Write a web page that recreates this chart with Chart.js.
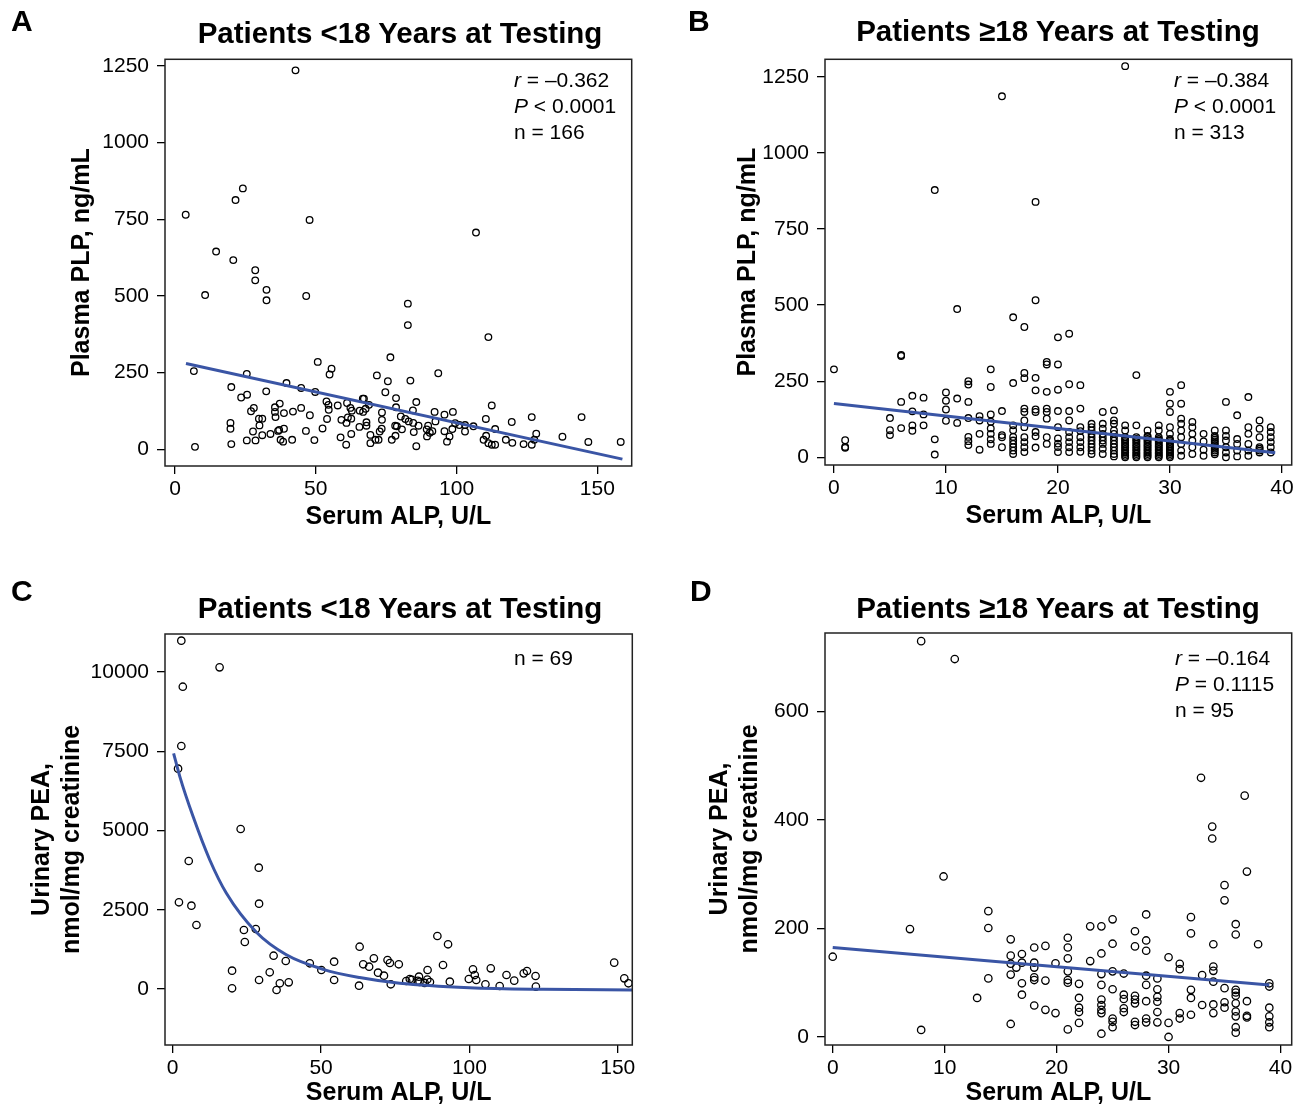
<!DOCTYPE html>
<html><head><meta charset="utf-8">
<script src="https://cdn.jsdelivr.net/npm/chart.js@4.4.1/dist/chart.umd.min.js"></script>
<style>
body{margin:0;background:#fff;font-family:"Liberation Sans",Arial,Helvetica,sans-serif;color:#000;}
#wrap{position:relative;width:1301px;height:1109px;overflow:hidden;}
canvas{position:absolute;}
.letter{position:absolute;font-weight:bold;font-size:30px;line-height:30px;}
.title{position:absolute;font-weight:bold;font-size:29.5px;line-height:30px;transform:translateX(-50%);white-space:nowrap;}
.stat{position:absolute;font-size:21px;line-height:26px;white-space:nowrap;}
</style></head>
<body><div id="wrap">
<canvas id="cA" width="650" height="532" style="left:0;top:0"></canvas>
<canvas id="cB" width="651" height="531" style="left:650px;top:0"></canvas>
<canvas id="cC" width="650" height="553" style="left:0;top:555px"></canvas>
<canvas id="cD" width="651" height="553" style="left:650px;top:555px"></canvas>
<div class="letter" style="left:11px;top:6px">A</div>
<div class="letter" style="left:688px;top:6px">B</div>
<div class="letter" style="left:11px;top:576px">C</div>
<div class="letter" style="left:690px;top:576px">D</div>
<div class="title" style="left:400px;top:18px">Patients &lt;18 Years at Testing</div>
<div class="title" style="left:1058px;top:16px">Patients ≥18 Years at Testing</div>
<div class="title" style="left:400px;top:593px">Patients &lt;18 Years at Testing</div>
<div class="title" style="left:1058px;top:593px">Patients ≥18 Years at Testing</div>
<div class="stat" style="left:514px;top:67px"><i>r</i> = –0.362<br><i>P</i> &lt; 0.0001<br>n = 166</div>
<div class="stat" style="left:1174px;top:67px"><i>r</i> = –0.384<br><i>P</i> &lt; 0.0001<br>n = 313</div>
<div class="stat" style="left:514px;top:645px">n = 69</div>
<div class="stat" style="left:1175px;top:645px"><i>r</i> = –0.164<br><i>P</i> = 0.1115<br>n = 95</div>
</div>
<script>
// ---------- Panel A: Plasma PLP vs Serum ALP, <18 y ----------
const aPoints = [[42.8,1236],[24.1,851],[21.5,813],[3.8,765],[47.8,748],[106.9,707],[14.6,645],[20.7,617],[28.5,584],[28.5,551],[32.5,520],[32.5,486],[10.7,503],[46.6,500],[82.7,475],[82.7,405],[111.3,366],
[6.7,255],[7.1,8],[20,203],[19.7,86],[19.7,67],[20,17],[23.5,169],[25.6,178],[25.5,246],[27,124],[28,135],[25.5,29],[28.6,29],[27.7,58],[30,78],[31,100],[29.8,100],[31,46],[32.4,189],[33.9,50],[35.5,137],[35.5,122],[35.7,105],[37.2,149],[38.7,118],[36.6,60],[37,63],[38.7,67],[37.5,31],[38.4,25],[41.6,31],[39.6,216],[41.9,123],[44.8,200],[44.8,135],[47.9,111],[46.5,60],[49.5,30],[49.8,187],[50.7,285],[52.4,68],[54,99],[53.8,156],[54.5,145],[54.6,129],[54.9,244],[55.6,263],[57.8,143],[58.8,39],[59.1,96],[60.8,15],[60.9,86],[61.4,104],[61.1,151],[62.6,50],[62.6,100],[62.3,135],[62.8,126],[65.5,73],[65.6,126],[66.7,165],[67.1,165],[66.8,122],[67.7,132],[68,88],[68,77],[68.9,145],[71.7,241],[75.6,222],[74.7,186],[76.5,300],[73.5,120],[73.5,96],[73.4,67],[72.7,58],[72.3,31],[71.2,31],[69.4,20],[69.4,47],[77,31],[78.2,77],[78.5,167],[78.5,137],
[93.5,248],[83.6,224],[85.7,154],[84.5,127],[80.2,107],[81.8,99],[83,91],[84.6,86],[78.8,75],[80.6,65],[78.3,44],[86.5,77],[84.8,56],[85.7,10],[89.4,65],[89.9,77],[89.5,42],[90.5,54],[91.4,59],[92.5,91],[92.2,122],[95.7,113],[98.7,122],[95.7,59],[96.6,25],[97.5,42],[98.5,66],[99.5,85],[101,79],[103,79],[106,75],[103,58],[110.4,99],[112.5,143],[113.7,66],[110.5,44],[109.6,31],[111.3,20],[112.5,15],[113.7,15],[117.5,31],[119.6,89],[119.8,21],[123.8,17],[126.7,105],[128.3,51],[127.6,31],[126.7,15],[137.6,41],[144.4,105],[146.8,24],[158.3,24]];
const aFitX = [3.9, 158.9];
const aFitY = [280, -32];
const aXTicks = [0, 50, 100, 150];
const aYTicks = [0, 250, 500, 750, 1000, 1250];

// ---------- Panel B: Plasma PLP vs Serum ALP, >=18 y (columns by ALP value) ----------
const bColumnX = [0,1,5,6,7,8,9,10,11,12,13,14,15,16,17,18,19,20,21,22,23,24,25,26,27,28,29,30,31,32,33,34,35,36,37,38,39];
const bColumnY = [
[289],[56,34,31],[129,89,73],[336,333,182,96],[202,151,105,87],[196,141,105],[878,59,9],[213,186,157,120],[487,193,113],
[250,239,182,129,67,53,40],[135,121,77,25],[289,231,141,117,95,77,59,44],[1186,152,73,66,33],
[460,244,105,89,67,55,44,33,22,11],[428,277,260,160,149,121,99,66,50,33,17],[839,516,261,220,157,149,83,69,32],
[313,305,215,160,149,127,66,44],[394,305,222,152,99,62,45,34,17],[406,240,152,121,83,66,50,33,17],
[237,160,99,86,66,50,33,18],[110,99,88,77,66,55,44,33,22,11],[149,110,94,77,66,55,44,28,11],
[154,121,110,88,77,66,55,44,33,22,11,3],[1285,105,88,66,60,55,50,44,38,33,27,22,16,11,5,0],
[270,105,66,60,55,50,44,38,33,27,22,16,11,5,0],[88,70,66,60,55,50,44,38,33,27,22,16,11,5,0],
[105,88,66,60,55,50,44,38,33,27,22,16,11,5,0],[215,176,149,99,77,60,55,50,44,38,33,27,22,16,11,5,0],
[237,176,127,110,88,66,44,22,5],[116,99,77,55,33,11],[77,52,25,5],[88,70,64,58,52,46,40,34,28,22,16,10],
[182,88,70,55,33,16,0],[138,60,44,22,3],[198,99,77,44,22,5],[121,94,66,33,28,22,16],[99,83,66,50,33,16]];
const bFitX = [0, 39.4];
const bFitY = [177, 15];
const bXTicks = [0, 10, 20, 30, 40];
const bYTicks = [0, 250, 500, 750, 1000, 1250];

// ---------- Panel C: Urinary PEA vs Serum ALP, <18 y ----------
const cPoints = [[2.9,10988],[15.8,10148],[3.4,9536],[2.9,7666],[1.8,6950],[22.9,5047],[5.4,4038],[29,3827],[2.1,2735],[6.3,2628],[29.1,2691],[8,2019],[24,1861],[28,1893],[24.3,1483],[20,577],[20,22],[29.1,284],[32.7,527],[34,1050],[38.1,883],[35,-32],[36.1,180],[39.1,211],[46.2,811],[50.1,599],[54.4,861],[54.4,284],[63,1334],[62.8,104],[64.2,779],[66.2,703],[67.8,968],[69.2,514],[71.2,420],[72.4,915],[73.2,820],[76.2,779],[73.5,148],
[89.2,1672],[92.8,1410],[91.1,757],[85.9,599],[83,388],[79.9,315],[78.7,252],[80.6,290],[82.6,260],[83.2,225],[84.9,190],[85.8,300],[86.7,220],[93.4,230],[99.8,315],[101.2,620],[101.8,440],[102.3,283],[105.4,148],[107.2,652],[110.2,95],[112.5,441],[115.1,263],[118.3,494],[119.4,567],[122.3,410],[122.4,74],[148.8,831],[152.2,337],[153.6,180]];
const cFitX = [0.3, 2.4, 6.9, 12.5, 18.1, 28.2, 38.3, 50.7, 63, 76.5, 100, 125, 155];
const cFitY = [7435, 6700, 5430, 4070, 3020, 1790, 1080, 620, 360, 180, 40, -10, -30];
const cXTicks = [0, 50, 100, 150];
const cYTicks = [0, 2500, 5000, 7500, 10000];

// ---------- Panel D: Urinary PEA vs Serum ALP, >=18 y ----------
const dPoints = [[7.9,730],[10.9,697],[32.9,478],[36.8,445],[33.9,388],[33.9,366],[37,305],[9.9,296],
[0,148],[6.9,199],[7.9,13],[13.9,232],[13.9,201],[13.9,108],[12.9,72],[15.9,180],[15.9,150],[15.9,135],[15.9,115],[15.9,24],[16.4,128],[16.9,153],[16.9,137],[16.9,99],[16.9,78],[18,165],[18,137],[18,128],[18,110],[18,105],[18,58],[19,168],[19,104],[19,50],[19.9,136],[19.9,44],
[21,183],[21,165],[21,145],[21,121],[21,105],[21,100],[21,14],
[22,98],[22,72],[22,54],[22,46],[22,26],
[23,204],[23,140],
[24,204],[24,154],[24,116],[24,96],[24,69],[24,59],[24,50],[24,44],[24,6],
[25,217],[25,172],[25,121],[25,88],[25,34],[25,28],[25,18],
[26,117],[26,78],[26,70],[26,53],[26,46],
[27,195],[27,167],[27,76],[27,69],[27,62],[27,28],[27,22],
[28,226],[28,178],[28,159],[28,113],[28,96],[28,66],[28,34],[28,27],
[29,108],[29,88],[29,74],[29,65],[29,46],[29,27],
[30,147],[30,26],[30,0],
[31,135],[31,125],[31,44],[31,34],
[32,221],[32,191],[32,87],[32,72],[32,41],
[33,114],[33,59],
[34,171],[34,130],[34,122],[34,102],[34,60],[34,44],
[35,280],[35,252],[35,90],[35,64],[35,54],
[36,208],[36,189],[36,87],[36,82],[36,76],[36,62],[36,47],[36,38],[36,18],[36,8],
[37,66],[37,39],[37,36],[38,171],
[39,99],[39,93],[39,54],[39,38],[39,27],[39,18]];
const dFitX = [0, 39];
const dFitY = [165, 96];
const dXTicks = [0, 10, 20, 30, 40];
const dYTicks = [0, 200, 400, 600];

// ---------- drawing ----------
const FAM = '"Liberation Sans", Arial, Helvetica, sans-serif';
const framePlugin = {
  id: 'frame',
  afterDraw(chart) {
    const {ctx, chartArea: a} = chart;
    ctx.save();
    ctx.strokeStyle = '#222';
    ctx.lineWidth = 1.5;
    ctx.strokeRect(a.left, a.top, a.right - a.left, a.bottom - a.top);
    ctx.restore();
  }
};
function toXY(xs, ys) { return xs.map((x, i) => ({x: x, y: ys[i]})); }
function pairs(p) { return p.map(q => ({x: q[0], y: q[1]})); }

function makeChart(id, o) {
  const axisBase = {
    type: 'linear',
    grid: {drawOnChartArea: false, drawTicks: true, tickLength: 8, color: '#000', lineWidth: 1.3},
    border: {display: false},
    ticks: {font: {family: FAM, size: 21}, color: '#000', autoSkip: false, maxRotation: 0,
            callback: v => String(v)}
  };
  return new Chart(document.getElementById(id), {
    type: 'scatter',
    data: {datasets: [
      {type: 'line', data: toXY(o.fitX, o.fitY), borderColor: '#3a55a5', borderWidth: 3,
       pointRadius: 0, fill: false, tension: 0, cubicInterpolationMode: o.curve ? 'monotone' : 'default'},
      {type: 'scatter', data: o.points, pointStyle: 'circle', pointRadius: o.r, pointBorderWidth: 1.3,
       pointBorderColor: '#000', pointBackgroundColor: 'rgba(255,255,255,0)'}
    ]},
    options: {
      responsive: false, animation: false, devicePixelRatio: 1,
      layout: {padding: {left: 0, top: o.padTop, right: o.padRight, bottom: 0}},
      plugins: {legend: {display: false}, tooltip: {enabled: false}},
      scales: {
        x: Object.assign({}, axisBase, {
          min: o.xmin, max: o.xmax, position: 'bottom',
          afterBuildTicks: s => { s.ticks = o.xTicks.map(v => ({value: v})); },
          afterFit: s => { s.height = o.xH; },
          ticks: Object.assign({}, axisBase.ticks, {padding: 3}),
          title: {display: true, text: 'Serum ALP, U/L', color: '#000',
                  font: {family: FAM, size: 25, weight: 'bold', lineHeight: 1.2}, padding: {top: 0, bottom: 0}}
        }),
        y: Object.assign({}, axisBase, {
          min: o.ymin, max: o.ymax, position: 'left',
          afterBuildTicks: s => { s.ticks = o.yTicks.map(v => ({value: v})); },
          afterFit: s => { s.width = o.yW; },
          ticks: Object.assign({}, axisBase.ticks, {padding: 8}),
          title: {display: true, text: o.yTitle, color: '#000',
                  font: {family: FAM, size: 25, weight: 'bold', lineHeight: 1.2}, padding: {top: o.yTitlePad, bottom: 0}}
        })
      }
    },
    plugins: [framePlugin]
  });
}

const bPoints = [];
bColumnX.forEach((x, i) => bColumnY[i].forEach(y => bPoints.push({x: x, y: y})));

makeChart('cA', {points: pairs(aPoints), fitX: aFitX, fitY: aFitY, xTicks: aXTicks, yTicks: aYTicks,
  xmin: -3.55, xmax: 162.2, ymin: -54.5, ymax: 1272, r: 3.3,
  padTop: 59.3, padRight: 18.3, xH: 66, yW: 165, yTitle: 'Plasma PLP, ng/mL', yTitlePad: 67});
makeChart('cB', {points: bPoints, fitX: bFitX, fitY: bFitY, xTicks: bXTicks, yTicks: bYTicks,
  xmin: -0.8, xmax: 40.87, ymin: -25.3, ymax: 1307.5, r: 3.3,
  padTop: 59.3, padRight: 9.3, xH: 66, yW: 175, yTitle: 'Plasma PLP, ng/mL', yTitlePad: 83});
makeChart('cC', {points: pairs(cPoints), fitX: cFitX, fitY: cFitY, curve: true, xTicks: cXTicks, yTicks: cYTicks,
  xmin: -2.6, xmax: 154.9, ymin: -1767, ymax: 11199, r: 3.7,
  padTop: 79, padRight: 17.7, xH: 63, yW: 165, yTitle: ['Urinary PEA,', 'nmol/mg creatinine'], yTitlePad: 27});
makeChart('cD', {points: pairs(dPoints), fitX: dFitX, fitY: dFitY, xTicks: dXTicks, yTicks: dYTicks,
  xmin: -0.69, xmax: 41, ymin: -14.8, ymax: 745, r: 3.7,
  padTop: 78, padRight: 9.3, xH: 63, yW: 175, yTitle: ['Urinary PEA,', 'nmol/mg creatinine'], yTitlePad: 55});
</script>
</body></html>
